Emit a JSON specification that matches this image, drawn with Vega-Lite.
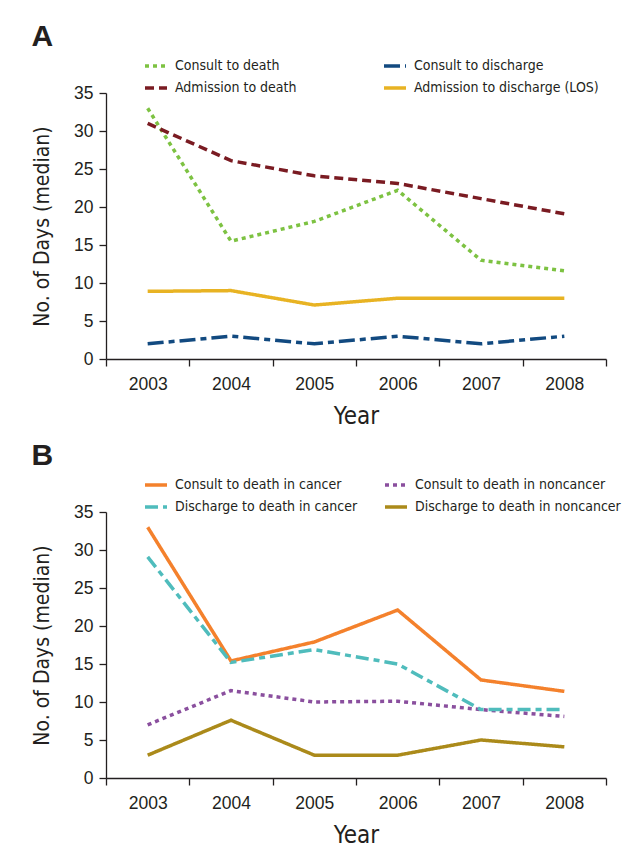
{
  "$schema": "https://vega.github.io/schema/vega-lite/v6.json",
  "padding": {"left": 31, "top": 22, "right": 5, "bottom": 5},
  "background": "white",
  "config": {
    "font": "DejaVu Sans Condensed, sans-serif",
    "view": {"stroke": null},
    "axis": {
      "domainColor": "#231f20", "tickColor": "#231f20", "labelColor": "#231f20", "titleColor": "#231f20",
      "labelFontSize": 17.5, "titleFontSize": 24, "titleFontWeight": "normal", "tickSize": 7,
      "grid": false, "domainWidth": 1.3, "tickWidth": 1.3,
      "labelFont": "Liberation Sans, Arial, sans-serif",
      "titleFont": "DejaVu Sans Condensed, sans-serif"
    },
    "legend": {
      "labelFont": "DejaVu Sans Condensed, sans-serif",
      "labelFontSize": 14, "labelColor": "#231f20", "labelLimit": 0
    },
    "title": {"fontSize": 30, "fontWeight": "bold", "anchor": "start", "frame": "bounds", "color": "#231f20",
      "font": "Liberation Sans, DejaVu Sans, sans-serif", "offset": 1}
  },
  "resolve": {
    "scale": {"color": "independent", "strokeDash": "independent"},
    "legend": {"color": "independent", "strokeDash": "independent"}
  },
  "datasets": {
    "A": [
      {"series": "Consult to death", "year": "2003", "days": 33.0},
      {"series": "Consult to death", "year": "2004", "days": 15.5},
      {"series": "Consult to death", "year": "2005", "days": 18.1},
      {"series": "Consult to death", "year": "2006", "days": 22.2},
      {"series": "Consult to death", "year": "2007", "days": 13.0},
      {"series": "Consult to death", "year": "2008", "days": 11.6},
      {"series": "Consult to discharge", "year": "2003", "days": 2},
      {"series": "Consult to discharge", "year": "2004", "days": 3},
      {"series": "Consult to discharge", "year": "2005", "days": 2},
      {"series": "Consult to discharge", "year": "2006", "days": 3},
      {"series": "Consult to discharge", "year": "2007", "days": 2},
      {"series": "Consult to discharge", "year": "2008", "days": 3},
      {"series": "Admission to death", "year": "2003", "days": 31.0},
      {"series": "Admission to death", "year": "2004", "days": 26.1},
      {"series": "Admission to death", "year": "2005", "days": 24.1},
      {"series": "Admission to death", "year": "2006", "days": 23.1},
      {"series": "Admission to death", "year": "2007", "days": 21.1},
      {"series": "Admission to death", "year": "2008", "days": 19.1},
      {"series": "Admission to discharge (LOS)", "year": "2003", "days": 8.9},
      {"series": "Admission to discharge (LOS)", "year": "2004", "days": 9.0},
      {"series": "Admission to discharge (LOS)", "year": "2005", "days": 7.1},
      {"series": "Admission to discharge (LOS)", "year": "2006", "days": 8.0},
      {"series": "Admission to discharge (LOS)", "year": "2007", "days": 8.0},
      {"series": "Admission to discharge (LOS)", "year": "2008", "days": 8.0}
    ],
    "B": [
      {"series": "Consult to death in cancer", "year": "2003", "days": 33.0},
      {"series": "Consult to death in cancer", "year": "2004", "days": 15.4},
      {"series": "Consult to death in cancer", "year": "2005", "days": 17.9},
      {"series": "Consult to death in cancer", "year": "2006", "days": 22.1},
      {"series": "Consult to death in cancer", "year": "2007", "days": 12.9},
      {"series": "Consult to death in cancer", "year": "2008", "days": 11.4},
      {"series": "Consult to death in noncancer", "year": "2003", "days": 7.0},
      {"series": "Consult to death in noncancer", "year": "2004", "days": 11.5},
      {"series": "Consult to death in noncancer", "year": "2005", "days": 10.0},
      {"series": "Consult to death in noncancer", "year": "2006", "days": 10.1},
      {"series": "Consult to death in noncancer", "year": "2007", "days": 9.0},
      {"series": "Consult to death in noncancer", "year": "2008", "days": 8.1},
      {"series": "Discharge to death in cancer", "year": "2003", "days": 29.1},
      {"series": "Discharge to death in cancer", "year": "2004", "days": 15.2},
      {"series": "Discharge to death in cancer", "year": "2005", "days": 16.9},
      {"series": "Discharge to death in cancer", "year": "2006", "days": 15.0},
      {"series": "Discharge to death in cancer", "year": "2007", "days": 9.0},
      {"series": "Discharge to death in cancer", "year": "2008", "days": 9.0},
      {"series": "Discharge to death in noncancer", "year": "2003", "days": 3.0},
      {"series": "Discharge to death in noncancer", "year": "2004", "days": 7.6},
      {"series": "Discharge to death in noncancer", "year": "2005", "days": 3.0},
      {"series": "Discharge to death in noncancer", "year": "2006", "days": 3.0},
      {"series": "Discharge to death in noncancer", "year": "2007", "days": 5.0},
      {"series": "Discharge to death in noncancer", "year": "2008", "days": 4.1}
    ]
  },
  "spacing": 12,
  "vconcat": [
    {
      "title": {"text": "A"},
      "width": 500, "height": 266,
      "data": {"name": "A"},
      "mark": {"type": "line", "strokeWidth": 3.5, "strokeCap": "butt"},
      "encoding": {
        "x": {"field": "year", "type": "ordinal", "bandPosition": 0.5,
          "scale": {"type": "band", "paddingInner": 0, "paddingOuter": 0},
          "axis": {"title": "Year", "labelAngle": 0, "tickBand": "extent", "labelPadding": 9, "titlePadding": 12}},
        "y": {"field": "days", "type": "quantitative", "scale": {"domain": [0, 35]},
          "axis": {"title": "No. of Days (median)", "titleFontSize": 21, "values": [0, 5, 10, 15, 20, 25, 30, 35], "labelPadding": 6, "titlePadding": 21}},
        "color": {"field": "series", "type": "nominal",
          "scale": {"domain": ["Consult to death", "Consult to discharge", "Admission to death", "Admission to discharge (LOS)"],
            "range": ["#7dc242", "#124a80", "#7a1b22", "#e8b323"]},
          "legend": {"title": null, "orient": "none", "legendX": 37, "legendY": -40, "columns": 2, "direction": "horizontal",
            "gridAlign": "all", "symbolType": "stroke", "symbolSize": 484, "symbolStrokeWidth": 3.5, "labelOffset": 6,
            "rowPadding": 2, "columnPadding": 17}},
        "strokeDash": {"field": "series", "type": "nominal",
          "scale": {"domain": ["Consult to death", "Consult to discharge", "Admission to death", "Admission to discharge (LOS)"],
            "range": [[4, 4], [16, 5, 6, 5], [9, 5], [1, 0]]},
          "legend": {"title": null, "orient": "none", "legendX": 37, "legendY": -40, "columns": 2, "direction": "horizontal",
            "gridAlign": "all", "symbolType": "stroke", "symbolSize": 484, "symbolStrokeWidth": 3.5, "labelOffset": 6,
            "rowPadding": 2, "columnPadding": 17}}
      }
    },
    {
      "title": {"text": "B"},
      "width": 500, "height": 266,
      "data": {"name": "B"},
      "mark": {"type": "line", "strokeWidth": 3.5, "strokeCap": "butt"},
      "encoding": {
        "x": {"field": "year", "type": "ordinal", "bandPosition": 0.5,
          "scale": {"type": "band", "paddingInner": 0, "paddingOuter": 0},
          "axis": {"title": "Year", "labelAngle": 0, "tickBand": "extent", "labelPadding": 9, "titlePadding": 12}},
        "y": {"field": "days", "type": "quantitative", "scale": {"domain": [0, 35]},
          "axis": {"title": "No. of Days (median)", "titleFontSize": 21, "values": [0, 5, 10, 15, 20, 25, 30, 35], "labelPadding": 6, "titlePadding": 21}},
        "color": {"field": "series", "type": "nominal",
          "scale": {"domain": ["Consult to death in cancer", "Consult to death in noncancer", "Discharge to death in cancer", "Discharge to death in noncancer"],
            "range": ["#f4812c", "#8a4f9e", "#4fbcbc", "#ab8a1a"]},
          "legend": {"title": null, "orient": "none", "legendX": 37, "legendY": -40, "columns": 2, "direction": "horizontal",
            "gridAlign": "all", "symbolType": "stroke", "symbolSize": 484, "symbolStrokeWidth": 3.5, "labelOffset": 6,
            "rowPadding": 2, "columnPadding": -3}},
        "strokeDash": {"field": "series", "type": "nominal",
          "scale": {"domain": ["Consult to death in cancer", "Consult to death in noncancer", "Discharge to death in cancer", "Discharge to death in noncancer"],
            "range": [[1, 0], [4, 4], [13, 5, 6, 5], [1, 0]]},
          "legend": {"title": null, "orient": "none", "legendX": 37, "legendY": -40, "columns": 2, "direction": "horizontal",
            "gridAlign": "all", "symbolType": "stroke", "symbolSize": 484, "symbolStrokeWidth": 3.5, "labelOffset": 6,
            "rowPadding": 2, "columnPadding": -3}}
      }
    }
  ]
}
